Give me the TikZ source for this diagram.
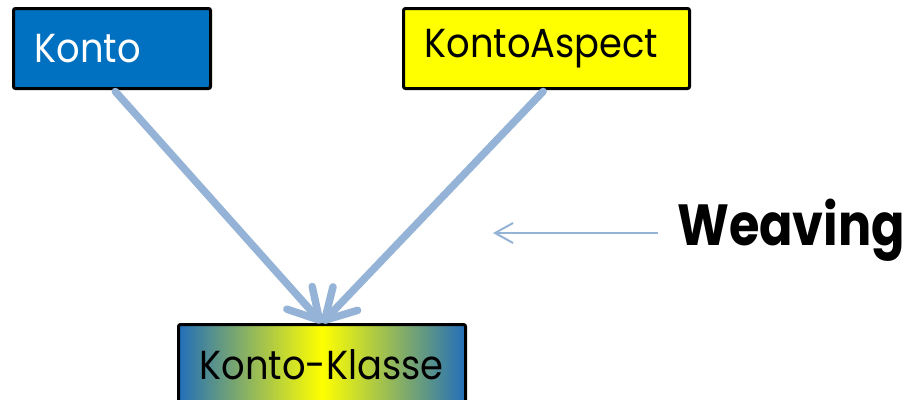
\documentclass[tikz,border=0pt]{standalone}
\usepackage{fontspec}
\setmainfont{Poppins}
\newfontfamily\boxfont[FakeStretch=0.91]{Poppins}
\newfontfamily\weavefont[FakeStretch=0.85]{Poppins Bold}
\usetikzlibrary{arrows.meta}
\definecolor{kblue}{RGB}{0,112,192}
\definecolor{gblue}{RGB}{34,110,185}
\definecolor{kyellow}{RGB}{255,255,0}
\definecolor{arrowblue}{RGB}{149,179,215}
\tikzset{
  boxnode/.style={draw=black, line width=3pt, rounded corners=2pt, anchor=north west,
    minimum height=80pt, inner xsep=21pt, inner ysep=0pt, align=left,
    font=\boxfont\fontsize{40.5}{42}\selectfont},
  bigarrow/.style={draw=arrowblue, line width=7.5pt, line cap=round,
    -{Straight Barb[length=30pt, width=34pt, line cap=round, line join=round]}},
  thinarrow/.style={draw=arrowblue, line width=2pt,
    -{Straight Barb[length=18pt, width=20pt]}},
}
\begin{document}
\begin{tikzpicture}[x=1pt,y=-1pt]
\useasboundingbox (0,0) rectangle (910,399);
\clip (0,0) rectangle (910,399);
\node[boxnode, fill=kblue, text=white, text width=155pt] (konto) at (12,7) {Konto};
\node[boxnode, fill=kyellow, text=black, text width=244pt] (aspect) at (402,7) {KontoAspect};
\node[boxnode, left color=gblue, right color=gblue, middle color=kyellow, text=black, text width=245pt] (klasse) at (177,323) {Konto-Klasse};
\draw[bigarrow, shorten <=2pt] ([xshift=2pt]konto.south) -- (klasse.north);
\draw[bigarrow, shorten <=2pt] ([xshift=-2pt]aspect.south) -- (klasse.north);
\node[anchor=base west, inner sep=0pt, font=\weavefont\fontsize{58}{60}\selectfont] (weave) at (677,245) {Weaving};
\coordinate (wstart) at (658,233);
\coordinate (wend) at (493,233);
\draw[thinarrow] (wstart) -- (wend);
\end{tikzpicture}
\end{document}
